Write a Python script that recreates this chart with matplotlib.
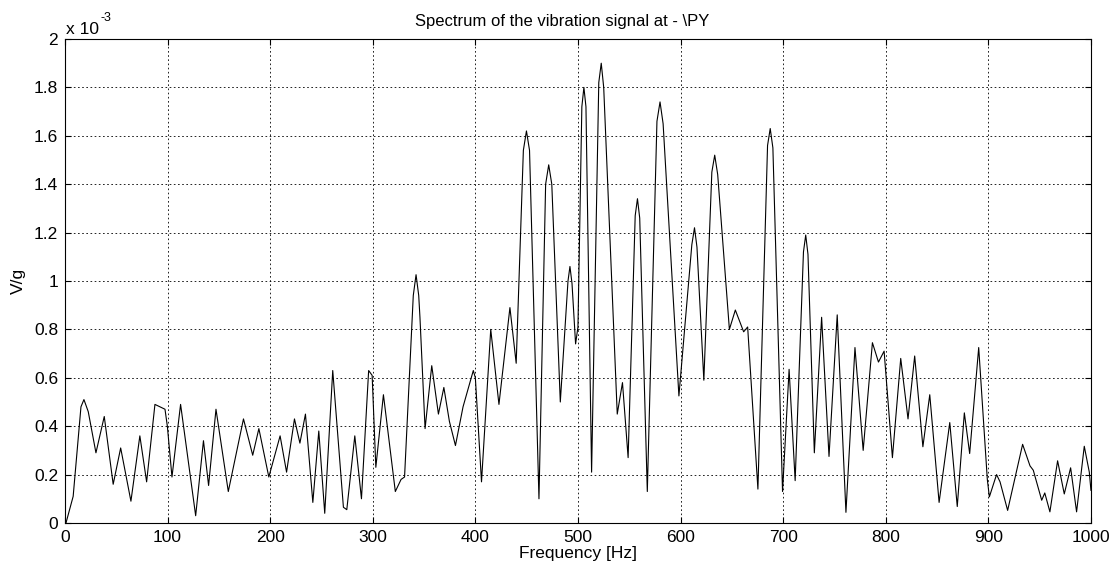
import matplotlib.pyplot as plt
from matplotlib.ticker import FuncFormatter

plt.rcParams['font.family'] = ['Liberation Sans', 'DejaVu Sans']

# spectrum (frequency in Hz, amplitude in 1e-3 V/g)
freq = [1, 8, 15.6, 18.5, 22.7, 30.2, 38.3, 47, 54.3, 64.3, 73, 79.6, 87.7, 92.6, 97.5,
        99.8, 104.3, 112.7, 127.4, 135, 140, 147.2, 159.2, 174, 183, 189, 198.7, 209.7,
        216, 223.7, 229, 234.4, 241.6, 247.4, 253.2, 261, 271.4, 274.7, 282.5, 289, 296,
        299.4, 303, 310.4, 322, 327.6, 331, 339.5, 342.2, 344.8, 346, 351, 357.5, 364,
        369.3, 374.7, 380.6, 388, 398, 400, 406, 415, 423, 433.7, 439.8,
        446.8, 449.8, 452.8, 462, 468.5, 471.5, 474.5, 482.8, 490.3, 492.2, 494.2,
        497.7, 500, 503.8, 505.8, 507.8, 513.3, 520.3, 522.7, 525.1, 528.8, 538.3, 543.4,
        548.9, 555.8, 558, 560.2, 567.6, 577, 580, 583,
        598.4, 611, 613.6, 616, 622.7, 630.5, 633.3, 636.2, 647.6, 653.4, 661.5, 665.4,
        675.4, 684.8, 687.4, 690, 699.4,
        705.8, 711.7, 719.8, 722, 724.2, 730.4, 737.5, 744.7, 752.7, 761.2, 770, 778, 787,
        792.9, 798.4, 806.5, 814.6, 821.7, 828.2, 836.2, 842.9, 852, 862.4, 869.7, 876.6,
        881.8, 890.6, 899, 901, 908, 911.4, 918.8, 933.4, 940.6, 943.8, 952, 955, 960,
        967.5, 974, 980.2, 986, 993.5, 998.4, 1000]
amp = [0.0, 0.11, 0.48, 0.51, 0.46, 0.29, 0.44, 0.16, 0.31, 0.09, 0.36, 0.17, 0.49, 0.48, 0.47,
       0.40, 0.19, 0.49, 0.03, 0.34, 0.155, 0.47, 0.13, 0.43, 0.28, 0.39, 0.19, 0.36,
       0.21, 0.43, 0.33, 0.45, 0.085, 0.38, 0.04, 0.63, 0.065, 0.055, 0.36, 0.10, 0.63,
       0.61, 0.23, 0.53, 0.13, 0.18, 0.19, 0.94, 1.026, 0.94, 0.85, 0.39, 0.65, 0.45,
       0.56, 0.42, 0.32, 0.48, 0.63, 0.60, 0.17, 0.80, 0.49, 0.89, 0.66,
       1.54, 1.62, 1.54, 0.10, 1.40, 1.48, 1.40, 0.50, 1.00, 1.06, 0.99,
       0.74, 0.81, 1.72, 1.80, 1.72, 0.21, 1.82, 1.90, 1.80, 1.42, 0.45, 0.58,
       0.27, 1.27, 1.34, 1.26, 0.13, 1.66, 1.74, 1.65,
       0.525, 1.15, 1.22, 1.14, 0.59, 1.45, 1.52, 1.44, 0.80, 0.88, 0.79, 0.81,
       0.14, 1.56, 1.63, 1.55, 0.13,
       0.635, 0.175, 1.12, 1.19, 1.11, 0.29, 0.85, 0.275, 0.86, 0.044, 0.725, 0.30, 0.745,
       0.665, 0.71, 0.27, 0.68, 0.43, 0.69, 0.315, 0.53, 0.085, 0.415, 0.068, 0.455,
       0.287, 0.725, 0.18, 0.108, 0.20, 0.17, 0.052, 0.325, 0.236, 0.218, 0.094, 0.124, 0.046,
       0.257, 0.12, 0.228, 0.046, 0.317, 0.21, 0.135]

fs = 12.5

fig = plt.figure(figsize=(11.18, 5.71), dpi=100)
ax = fig.add_axes([0.0581, 0.0841, 0.9177, 0.8476])
ax.plot(freq, amp, color='black', linewidth=0.8)

ax.set_xlim(0, 1000)
ax.set_ylim(0, 2)
ax.set_xticks(range(0, 1001, 100))
ax.set_yticks([i * 0.2 for i in range(11)])
ax.yaxis.set_major_formatter(FuncFormatter(lambda v, p: '%g' % round(v, 1)))
ax.grid(True, color='black', linestyle=(0, (2, 3)), linewidth=0.6)
ax.tick_params(direction='in', top=True, right=True, labelsize=fs, length=4, pad=5)
for s in ax.spines.values():
    s.set_linewidth(0.8)

ax.set_title('Spectrum of the vibration signal at - \\PY', fontsize=12, x=0.4844, pad=9)
ax.set_xlabel('Frequency [Hz]', fontsize=fs, labelpad=1)
ax.set_ylabel('V/g', fontsize=fs, labelpad=6)
ax.text(0.001, 1.004, 'x 10', transform=ax.transAxes, fontsize=fs,
        ha='left', va='bottom')
ax.text(0.035, 1.030, '-3', transform=ax.transAxes, fontsize=9,
        ha='left', va='bottom')

fig.savefig('out.png', dpi=100)
